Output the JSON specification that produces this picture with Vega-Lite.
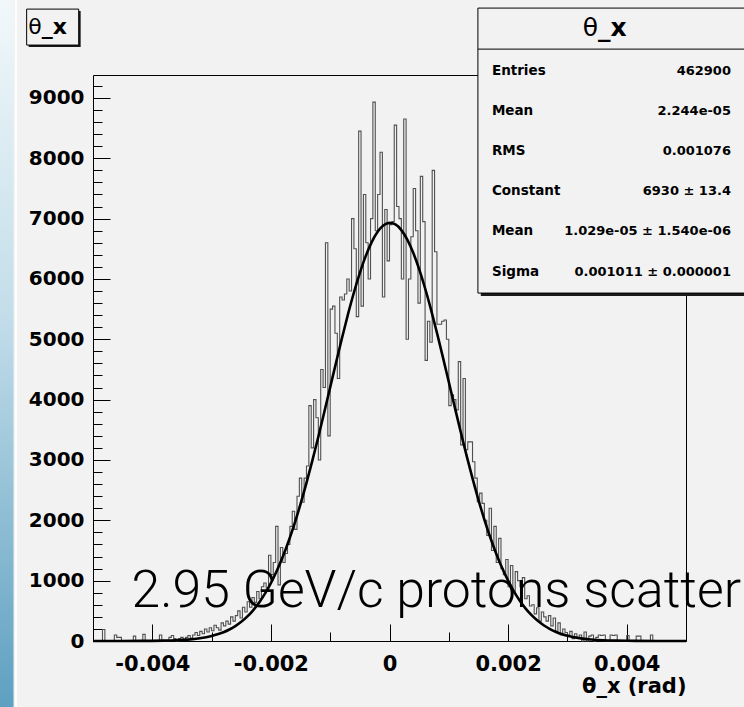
{
  "$schema": "https://vega.github.io/schema/vega-lite/v6.json",
  "width": 593,
  "height": 566,
  "autosize": "none",
  "padding": {"left": 93, "top": 75, "right": 58, "bottom": 66},
  "background": "#f2f2f2",
  "config": {
    "view": {"stroke": "#000000", "strokeWidth": 1},
    "axis": {
      "domain": false, "grid": false, "tickColor": "#000000", "tickWidth": 1,
      "labelFont": "DejaVu Sans", "labelFontWeight": "bold", "labelColor": "#000000",
      "labelOverlap": false, "labelFlush": false, "labelBound": false,
      "titleFont": "DejaVu Sans", "titleFontWeight": "bold", "titleColor": "#000000"
    },
    "text": {"font": "DejaVu Sans", "color": "#000000"}
  },
  "resolve": {"axis": {"y": "independent"}},
  "datasets": {
    "hist": [
      {"theta":-0.00498,"count":0},{"theta":-0.00494,"count":0},{"theta":-0.0049,"count":0},{"theta":-0.00486,"count":0},{"theta":-0.00482,"count":190},
      {"theta":-0.00478,"count":0},{"theta":-0.00474,"count":0},{"theta":-0.0047,"count":0},{"theta":-0.00466,"count":0},{"theta":-0.00462,"count":100},
      {"theta":-0.00458,"count":60},{"theta":-0.00454,"count":60},{"theta":-0.0045,"count":0},{"theta":-0.00446,"count":0},{"theta":-0.00442,"count":0},
      {"theta":-0.00438,"count":0},{"theta":-0.00434,"count":0},{"theta":-0.0043,"count":80},{"theta":-0.00426,"count":0},{"theta":-0.00422,"count":0},
      {"theta":-0.00418,"count":0},{"theta":-0.00414,"count":110},{"theta":-0.0041,"count":0},{"theta":-0.00406,"count":0},{"theta":-0.00402,"count":0},
      {"theta":-0.00398,"count":0},{"theta":-0.00394,"count":0},{"theta":-0.0039,"count":0},{"theta":-0.00386,"count":100},{"theta":-0.00382,"count":0},
      {"theta":-0.00378,"count":0},{"theta":-0.00374,"count":0},{"theta":-0.0037,"count":60},{"theta":-0.00366,"count":90},{"theta":-0.00362,"count":40},
      {"theta":-0.00358,"count":0},{"theta":-0.00354,"count":40},{"theta":-0.0035,"count":60},{"theta":-0.00346,"count":30},{"theta":-0.00342,"count":60},
      {"theta":-0.00338,"count":90},{"theta":-0.00334,"count":50},{"theta":-0.0033,"count":100},{"theta":-0.00326,"count":140},{"theta":-0.00322,"count":90},
      {"theta":-0.00318,"count":160},{"theta":-0.00314,"count":120},{"theta":-0.0031,"count":200},{"theta":-0.00306,"count":150},{"theta":-0.00302,"count":220},
      {"theta":-0.00298,"count":170},{"theta":-0.00294,"count":260},{"theta":-0.0029,"count":220},{"theta":-0.00286,"count":180},{"theta":-0.00282,"count":300},
      {"theta":-0.00278,"count":250},{"theta":-0.00274,"count":330},{"theta":-0.0027,"count":280},{"theta":-0.00266,"count":400},{"theta":-0.00262,"count":330},
      {"theta":-0.00258,"count":420},{"theta":-0.00254,"count":500},{"theta":-0.0025,"count":380},{"theta":-0.00246,"count":560},{"theta":-0.00242,"count":480},
      {"theta":-0.00238,"count":650},{"theta":-0.00234,"count":560},{"theta":-0.0023,"count":720},{"theta":-0.00226,"count":640},{"theta":-0.00222,"count":820},
      {"theta":-0.00218,"count":700},{"theta":-0.00214,"count":900},{"theta":-0.0021,"count":960},{"theta":-0.00206,"count":880},{"theta":-0.00202,"count":1420},
      {"theta":-0.00198,"count":1100},{"theta":-0.00194,"count":1300},{"theta":-0.0019,"count":1900},{"theta":-0.00186,"count":930},{"theta":-0.00182,"count":1550},
      {"theta":-0.00178,"count":1300},{"theta":-0.00174,"count":1450},{"theta":-0.0017,"count":1600},{"theta":-0.00166,"count":1900},{"theta":-0.00162,"count":2150},
      {"theta":-0.00158,"count":1850},{"theta":-0.00154,"count":2400},{"theta":-0.0015,"count":2700},{"theta":-0.00146,"count":2300},{"theta":-0.00142,"count":2700},
      {"theta":-0.00138,"count":2900},{"theta":-0.00134,"count":3900},{"theta":-0.0013,"count":3200},{"theta":-0.00126,"count":4000},{"theta":-0.00122,"count":3700},
      {"theta":-0.00118,"count":3000},{"theta":-0.00114,"count":4500},{"theta":-0.0011,"count":4200},{"theta":-0.00106,"count":6600},{"theta":-0.00102,"count":3400},
      {"theta":-0.00098,"count":5500},{"theta":-0.00094,"count":5550},{"theta":-0.0009,"count":5100},{"theta":-0.00086,"count":4350},{"theta":-0.00082,"count":5700},
      {"theta":-0.00078,"count":5650},{"theta":-0.00074,"count":5750},{"theta":-0.0007,"count":6000},{"theta":-0.00066,"count":5800},{"theta":-0.00062,"count":7000},
      {"theta":-0.00058,"count":6500},{"theta":-0.00054,"count":5375},{"theta":-0.0005,"count":8450},{"theta":-0.00046,"count":5550},{"theta":-0.00042,"count":7400},
      {"theta":-0.00038,"count":6600},{"theta":-0.00034,"count":6000},{"theta":-0.0003,"count":7000},{"theta":-0.00026,"count":8930},{"theta":-0.00022,"count":6800},
      {"theta":-0.00018,"count":7400},{"theta":-0.00014,"count":8100},{"theta":-0.0001,"count":5700},{"theta":-0.00006,"count":7150},{"theta":-0.00002,"count":6300},
      {"theta":0.00002,"count":6900},{"theta":0.00006,"count":6950},{"theta":0.0001,"count":8550},{"theta":0.00014,"count":7200},{"theta":0.00018,"count":7000},
      {"theta":0.00022,"count":6000},{"theta":0.00026,"count":8650},{"theta":0.0003,"count":5000},{"theta":0.00034,"count":6000},{"theta":0.00038,"count":6700},
      {"theta":0.00042,"count":7500},{"theta":0.00046,"count":6800},{"theta":0.0005,"count":5600},{"theta":0.00054,"count":7700},{"theta":0.00058,"count":6950},
      {"theta":0.00062,"count":4650},{"theta":0.00066,"count":5300},{"theta":0.0007,"count":4950},{"theta":0.00074,"count":7800},{"theta":0.00078,"count":6450},
      {"theta":0.00082,"count":5250},{"theta":0.00086,"count":5250},{"theta":0.0009,"count":5300},{"theta":0.00094,"count":5320},{"theta":0.00098,"count":5000},
      {"theta":0.00102,"count":3900},{"theta":0.00106,"count":4080},{"theta":0.0011,"count":4000},{"theta":0.00114,"count":3830},{"theta":0.00118,"count":4630},
      {"theta":0.00122,"count":3250},{"theta":0.00126,"count":4350},{"theta":0.0013,"count":3170},{"theta":0.00134,"count":3300},{"theta":0.00138,"count":3300},
      {"theta":0.00142,"count":2970},{"theta":0.00146,"count":2700},{"theta":0.0015,"count":2310},{"theta":0.00154,"count":2450},{"theta":0.00158,"count":2280},
      {"theta":0.00162,"count":2000},{"theta":0.00166,"count":1750},{"theta":0.0017,"count":2200},{"theta":0.00174,"count":1500},{"theta":0.00178,"count":1900},
      {"theta":0.00182,"count":1300},{"theta":0.00186,"count":1700},{"theta":0.0019,"count":1200},{"theta":0.00194,"count":1100},{"theta":0.00198,"count":1350},
      {"theta":0.00202,"count":900},{"theta":0.00206,"count":1250},{"theta":0.0021,"count":800},{"theta":0.00214,"count":1150},{"theta":0.00218,"count":1000},
      {"theta":0.00222,"count":900},{"theta":0.00226,"count":1050},{"theta":0.0023,"count":700},{"theta":0.00234,"count":750},{"theta":0.00238,"count":580},
      {"theta":0.00242,"count":600},{"theta":0.00246,"count":450},{"theta":0.0025,"count":550},{"theta":0.00254,"count":330},{"theta":0.00258,"count":480},
      {"theta":0.00262,"count":400},{"theta":0.00266,"count":330},{"theta":0.0027,"count":420},{"theta":0.00274,"count":250},{"theta":0.00278,"count":380},
      {"theta":0.00282,"count":160},{"theta":0.00286,"count":300},{"theta":0.0029,"count":100},{"theta":0.00294,"count":200},{"theta":0.00298,"count":140},
      {"theta":0.00302,"count":100},{"theta":0.00306,"count":160},{"theta":0.0031,"count":40},{"theta":0.00314,"count":120},{"theta":0.00318,"count":50},
      {"theta":0.00322,"count":100},{"theta":0.00326,"count":0},{"theta":0.0033,"count":150},{"theta":0.00334,"count":0},{"theta":0.00338,"count":80},
      {"theta":0.00342,"count":100},{"theta":0.00346,"count":0},{"theta":0.0035,"count":60},{"theta":0.00354,"count":100},{"theta":0.00358,"count":90},
      {"theta":0.00362,"count":100},{"theta":0.00366,"count":0},{"theta":0.0037,"count":0},{"theta":0.00374,"count":100},{"theta":0.00378,"count":90},
      {"theta":0.00382,"count":100},{"theta":0.00386,"count":0},{"theta":0.0039,"count":0},{"theta":0.00394,"count":0},{"theta":0.00398,"count":0},
      {"theta":0.00402,"count":90},{"theta":0.00406,"count":0},{"theta":0.0041,"count":0},{"theta":0.00414,"count":0},{"theta":0.00418,"count":80},
      {"theta":0.00422,"count":80},{"theta":0.00426,"count":0},{"theta":0.0043,"count":0},{"theta":0.00434,"count":0},{"theta":0.00438,"count":0},
      {"theta":0.00442,"count":100},{"theta":0.00446,"count":0},{"theta":0.0045,"count":0},{"theta":0.00454,"count":0},{"theta":0.00458,"count":0},
      {"theta":0.00462,"count":0},{"theta":0.00466,"count":0},{"theta":0.0047,"count":0},{"theta":0.00474,"count":0},{"theta":0.00478,"count":0},
      {"theta":0.00482,"count":0},{"theta":0.00486,"count":0},{"theta":0.0049,"count":0},{"theta":0.00494,"count":0},{"theta":0.00498,"count":0}
    ],
    "fit": [
      {"theta":-0.005,"fit":0},{"theta":-0.0045,"fit":0.3},{"theta":-0.004,"fit":2.7},{"theta":-0.0038,"fit":5.7},{"theta":-0.0036,"fit":11.8},
      {"theta":-0.0034,"fit":23.5},{"theta":-0.0032,"fit":44.8},{"theta":-0.003,"fit":82.3},{"theta":-0.0029,"fit":110.0},{"theta":-0.0028,"fit":145.5},
      {"theta":-0.0027,"fit":190.6},{"theta":-0.0026,"fit":247.3},{"theta":-0.0025,"fit":317.7},{"theta":-0.0024,"fit":404.0},{"theta":-0.0023,"fit":509.0},
      {"theta":-0.0022,"fit":635.1},{"theta":-0.0021,"fit":784.6},{"theta":-0.002,"fit":959.8},{"theta":-0.0019,"fit":1162.8},{"theta":-0.0018,"fit":1394.8},
      {"theta":-0.0017,"fit":1656.8},{"theta":-0.0016,"fit":1949.2},{"theta":-0.0015,"fit":2270.6},{"theta":-0.0014,"fit":2619.3},{"theta":-0.0013,"fit":2992.2},
      {"theta":-0.0012,"fit":3384.8},{"theta":-0.0011,"fit":3791.8},{"theta":-0.001,"fit":4206.2},{"theta":-0.0009,"fit":4620.6},{"theta":-0.0008,"fit":5026.3},
      {"theta":-0.0007,"fit":5414.3},{"theta":-0.0006,"fit":5775.7},{"theta":-0.0005,"fit":6101.1},{"theta":-0.0004,"fit":6382.2},{"theta":-0.0003,"fit":6611.1},
      {"theta":-0.0002,"fit":6781.7},{"theta":-0.0001,"fit":6888.9},{"theta":0,"fit":6929.6},{"theta":0.0001,"fit":6902.8},{"theta":0.0002,"fit":6809.1},
      {"theta":0.0003,"fit":6651.2},{"theta":0.0004,"fit":6433.8},{"theta":0.0005,"fit":6162.9},{"theta":0.0006,"fit":5846.0},{"theta":0.0007,"fit":5491.2},
      {"theta":0.0008,"fit":5108.0},{"theta":0.0009,"fit":4705.2},{"theta":0.001,"fit":4291.9},{"theta":0.0011,"fit":3876.9},{"theta":0.0012,"fit":3467.7},
      {"theta":0.0013,"fit":3071.5},{"theta":0.0014,"fit":2694.2},{"theta":0.0015,"fit":2340.3},{"theta":0.0016,"fit":2013.1},{"theta":0.0017,"fit":1714.6},
      {"theta":0.0018,"fit":1446.3},{"theta":0.0019,"fit":1208.2},{"theta":0.002,"fit":999.3},{"theta":0.0021,"fit":818.5},{"theta":0.0022,"fit":663.8},
      {"theta":0.0023,"fit":533.1},{"theta":0.0024,"fit":424.0},{"theta":0.0025,"fit":334.1},{"theta":0.0026,"fit":260.6},{"theta":0.0027,"fit":201.3},
      {"theta":0.0028,"fit":154.0},{"theta":0.0029,"fit":116.6},{"theta":0.003,"fit":87.5},{"theta":0.0032,"fit":47.8},{"theta":0.0034,"fit":25.1},
      {"theta":0.0036,"fit":12.7},{"theta":0.0038,"fit":6.2},{"theta":0.004,"fit":2.9},{"theta":0.0045,"fit":0.3},{"theta":0.005,"fit":0}
    ]
  },
  "layer": [
    {
      "data": {"values": [{}]},
      "mark": {"type": "rect", "fill": {"gradient": "linear", "x1": 0, "y1": 0, "x2": 0, "y2": 1,
        "stops": [{"offset": 0, "color": "#f2f8fa"}, {"offset": 0.45, "color": "#c2dde9"}, {"offset": 1, "color": "#5c9fc0"}]}},
      "encoding": {
        "x": {"datum": -0.00658, "type": "quantitative"},
        "x2": {"datum": -0.00634},
        "y": {"datum": 10700, "type": "quantitative", "axis": null},
        "y2": {"datum": -1200}
      }
    },
    {
      "data": {"values": [{}]},
      "mark": {"type": "rect", "fill": "#ffffff", "opacity": 0.9},
      "encoding": {
        "x": {"datum": -0.006315, "type": "quantitative"},
        "x2": {"datum": -0.006282},
        "y": {"datum": 10700, "type": "quantitative", "axis": null},
        "y2": {"datum": -1200}
      }
    },
    {
      "data": {"name": "hist"},
      "mark": {"type": "line", "interpolate": "step", "stroke": "#505050", "strokeWidth": 1.1},
      "encoding": {
        "x": {
          "field": "theta", "type": "quantitative",
          "scale": {"domain": [-0.005, 0.005], "nice": false, "zero": false},
          "axis": {
            "values": [-0.005, -0.0045, -0.004, -0.0035, -0.003, -0.0025, -0.002, -0.0015, -0.001, -0.0005, 0, 0.0005, 0.001, 0.0015, 0.002, 0.0025, 0.003, 0.0035, 0.004, 0.0045, 0.005],
            "tickSize": {"condition": {"test": "abs(round(datum.value * 10000)) % 20 === 0", "value": -17}, "value": -9},
            "labelFontSize": {"condition": {"test": "abs(round(datum.value * 10000)) % 20 === 0", "value": 21}, "value": 0},
            "labelExpr": "abs(round(datum.value * 10000)) % 20 === 0 ? replace(format(datum.value, '.3~f'), '\u2212', '-') : ''",
            "labelPadding": 29, "labelOverlap": false,
            "title": "θ_x (rad)", "titleAnchor": "end", "titleFontSize": 21, "titlePadding": 1
          }
        },
        "y": {
          "field": "count", "type": "quantitative",
          "scale": {"domain": [0, 9380], "nice": false},
          "axis": {
            "orient": "left",
            "values": [0, 1000, 2000, 3000, 4000, 5000, 6000, 7000, 8000, 9000],
            "tickSize": -17,
            "labelFontSize": 20,
            "format": "d",
            "labelPadding": 26, "labelOverlap": false,
            "title": null
          }
        }
      }
    },
    {
      "data": {"name": "fit"},
      "mark": {"type": "line", "interpolate": "monotone", "stroke": "#000000", "strokeWidth": 2.6},
      "encoding": {
        "x": {"field": "theta", "type": "quantitative"},
        "y": {
          "field": "fit", "type": "quantitative",
          "axis": {
            "orient": "left",
            "values": [200, 400, 600, 800, 1200, 1400, 1600, 1800, 2200, 2400, 2600, 2800, 3200, 3400, 3600, 3800, 4200, 4400, 4600, 4800, 5200, 5400, 5600, 5800, 6200, 6400, 6600, 6800, 7200, 7400, 7600, 7800, 8200, 8400, 8600, 8800, 9200],
            "tickSize": -9,
            "labels": false,
            "title": null
          }
        }
      }
    },
    {
      "data": {"values": [{}]},
      "mark": {"type": "text", "text": "2.95 GeV/c protons scatter", "font": "Roboto", "fontWeight": 300, "fontSize": 51.7, "align": "left", "baseline": "alphabetic"},
      "encoding": {
        "x": {"datum": -0.00435, "type": "quantitative"},
        "y": {"datum": 563, "type": "quantitative", "axis": null}
      }
    },
    {
      "data": {"values": [{}]},
      "mark": {"type": "rect", "fill": "#1a1a1a"},
      "encoding": {
        "x": {"datum": 0.00154, "type": "quantitative"},
        "x2": {"datum": 0.0063},
        "y": {"datum": 10439, "type": "quantitative", "axis": null},
        "y2": {"datum": 5717}
      }
    },
    {
      "data": {"values": [{}]},
      "mark": {"type": "rect", "fill": "#f2f2f2", "stroke": "#000000", "strokeWidth": 1},
      "encoding": {
        "x": {"datum": 0.001491, "type": "quantitative"},
        "x2": {"datum": 0.006},
        "y": {"datum": 10489, "type": "quantitative", "axis": null},
        "y2": {"datum": 5766}
      }
    },
    {
      "data": {"values": [{}]},
      "mark": {"type": "rule", "stroke": "#000000", "strokeWidth": 1},
      "encoding": {
        "x": {"datum": 0.001491, "type": "quantitative"},
        "x2": {"datum": 0.006},
        "y": {"datum": 9809, "type": "quantitative", "axis": null}
      }
    },
    {
      "data": {"values": [{}]},
      "mark": {"type": "text", "text": "θ", "fontSize": 25, "align": "right", "baseline": "alphabetic"},
      "encoding": {
        "x": {"datum": 0.003515, "type": "quantitative"},
        "y": {"datum": 10025, "type": "quantitative", "axis": null}
      }
    },
    {
      "data": {"values": [{}]},
      "mark": {"type": "text", "text": "_x", "fontSize": 25, "fontWeight": "bold", "align": "left", "baseline": "alphabetic"},
      "encoding": {
        "x": {"datum": 0.003515, "type": "quantitative"},
        "y": {"datum": 10025, "type": "quantitative", "axis": null}
      }
    },
    {
      "data": {"values": [{}]},
      "mark": {"type": "text", "text": ["Entries", "Mean", "RMS", "Constant", "Mean", "Sigma"], "fontSize": 13.5, "fontWeight": "bold", "align": "left", "baseline": "alphabetic", "lineHeight": 40.2},
      "encoding": {
        "x": {"datum": 0.001727, "type": "quantitative"},
        "y": {"datum": 9387, "type": "quantitative", "axis": null}
      }
    },
    {
      "data": {"values": [{}]},
      "mark": {"type": "text", "text": ["462900", "2.244e-05", "0.001076", "6930 ± 13.4", "1.029e-05 ± 1.540e-06", "0.001011 ± 0.000001"], "fontSize": 13, "fontWeight": "bold", "align": "right", "baseline": "alphabetic", "lineHeight": 40.2},
      "encoding": {
        "x": {"datum": 0.005758, "type": "quantitative"},
        "y": {"datum": 9387, "type": "quantitative", "axis": null}
      }
    },
    {
      "data": {"values": [{}]},
      "mark": {"type": "rect", "fill": "#1a1a1a"},
      "encoding": {
        "x": {"datum": -0.006085, "type": "quantitative"},
        "x2": {"datum": -0.005208},
        "y": {"datum": 10439, "type": "quantitative", "axis": null},
        "y2": {"datum": 9843}
      }
    },
    {
      "data": {"values": [{}]},
      "mark": {"type": "rect", "fill": "#f2f2f2", "stroke": "#000000", "strokeWidth": 1},
      "encoding": {
        "x": {"datum": -0.006119, "type": "quantitative"},
        "x2": {"datum": -0.005241},
        "y": {"datum": 10472, "type": "quantitative", "axis": null},
        "y2": {"datum": 9876}
      }
    },
    {
      "data": {"values": [{}]},
      "mark": {"type": "text", "text": "θ", "fontSize": 22, "align": "right", "baseline": "alphabetic"},
      "encoding": {
        "x": {"datum": -0.005866, "type": "quantitative"},
        "y": {"datum": 10058, "type": "quantitative", "axis": null}
      }
    },
    {
      "data": {"values": [{}]},
      "mark": {"type": "text", "text": "_x", "fontSize": 22, "fontWeight": "bold", "align": "left", "baseline": "alphabetic"},
      "encoding": {
        "x": {"datum": -0.005866, "type": "quantitative"},
        "y": {"datum": 10058, "type": "quantitative", "axis": null}
      }
    }
  ]
}
